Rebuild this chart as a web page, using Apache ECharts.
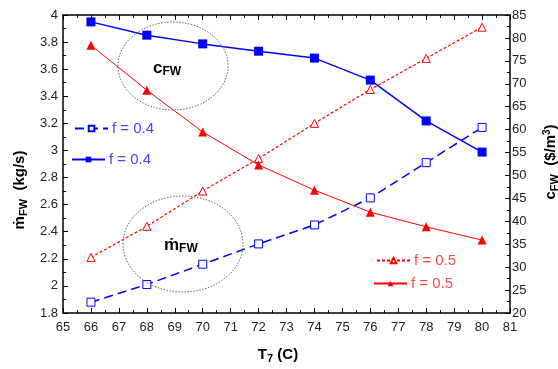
<!DOCTYPE html>
<html><head><meta charset="utf-8">
<script src="https://cdn.jsdelivr.net/npm/echarts@6/dist/echarts.min.js"></script>
<style>html,body{margin:0;padding:0;background:#fff}#c{width:558px;height:369px}</style>
</head><body><div id="c"></div>
<script>
const temps = [66, 68, 70, 72, 74, 76, 78, 80];
const mFW_f04 = [1.88, 2.01, 2.16, 2.31, 2.45, 2.65, 2.91, 3.17];
const mFW_f05 = [2.21, 2.44, 2.70, 2.94, 3.20, 3.45, 3.68, 3.91];
const cFW_f04 = [83.5, 80.6, 78.7, 77.1, 75.6, 70.8, 61.9, 55.1];
const cFW_f05 = [78.4, 68.6, 59.5, 52.3, 46.8, 42.0, 38.8, 35.9];
const legendLabels = {m04: 'f = 0.4', c04: 'f = 0.4', m05: 'f = 0.5', c05: 'f = 0.5'};

const pair = arr => temps.map((t, i) => [t, arr[i]]);
const FONT = 'Liberation Sans, Arial, sans-serif';
const chart = echarts.init(document.getElementById('c'));

const axisCommon = {
  axisLine: {show: true, onZero: false, lineStyle: {color: '#000', width: 1.5}},
  axisTick: {show: true, inside: true, length: 5, lineStyle: {color: '#000', width: 1}},
  minorTick: {show: true, splitNumber: 2, length: 3, lineStyle: {color: '#000', width: 1}},
  splitLine: {show: false},
  axisLabel: {color: '#222', fontSize: 13, fontFamily: FONT}
};

function leg(name, left, top, color) {
  return {
    data: [name], left: left, top: top, orient: 'horizontal',
    itemWidth: 33, itemHeight: 7, itemGap: 0, padding: 0,
    selectedMode: false,
    formatter: n => legendLabels[n],
    textStyle: {color: color, fontSize: 15, fontFamily: FONT, padding: [0, 0, 0, -1]}
  };
}

chart.setOption({
  animation: false,
  backgroundColor: '#fff',
  grid: {left: 63, right: 48, top: 15, bottom: 56},
  xAxis: [
    Object.assign({}, axisCommon, {type: 'value', min: 65, max: 81, interval: 1, position: 'bottom',
      axisLabel: Object.assign({}, axisCommon.axisLabel, {margin: 8})}),
    Object.assign({}, axisCommon, {type: 'value', min: 65, max: 81, interval: 1, position: 'top',
      axisLabel: {show: false}})
  ],
  yAxis: [
    Object.assign({}, axisCommon, {type: 'value', min: 1.8, max: 4, interval: 0.2, position: 'left',
      axisLabel: Object.assign({}, axisCommon.axisLabel, {margin: 5})}),
    Object.assign({}, axisCommon, {type: 'value', min: 20, max: 85, interval: 5, position: 'right',
      axisLabel: Object.assign({}, axisCommon.axisLabel, {margin: 2})})
  ],
  legend: [
    leg('m04', 74, 121, '#4646ff'),
    leg('c04', 71, 152, '#4646ff'),
    leg('m05', 376, 253, '#ff4a4a'),
    leg('c05', 373, 276, '#ff4a4a')
  ],
  series: [
    {name: 'm04', type: 'line', xAxisIndex: 0, yAxisIndex: 0, data: pair(mFW_f04),
      symbol: 'rect', symbolSize: 8, color: '#0000ff',
      lineStyle: {color: '#0000ff', width: 1.5, type: [9, 5]},
      itemStyle: {color: '#fff', borderColor: '#0000ff', borderWidth: 1}},
    {name: 'c04', type: 'line', xAxisIndex: 0, yAxisIndex: 1, data: pair(cFW_f04),
      symbol: 'rect', symbolSize: 9, color: '#0000ff',
      lineStyle: {color: '#0000ff', width: 1.5},
      itemStyle: {color: '#0000ff'}},
    {name: 'm05', type: 'line', xAxisIndex: 0, yAxisIndex: 0, data: pair(mFW_f05),
      symbol: 'triangle', symbolSize: 8, color: '#ff0000',
      lineStyle: {color: '#ff0000', width: 1.2, type: [3, 2]},
      itemStyle: {color: '#fff', borderColor: '#ff0000', borderWidth: 1}},
    {name: 'c05', type: 'line', xAxisIndex: 0, yAxisIndex: 1, data: pair(cFW_f05),
      symbol: 'triangle', symbolSize: 9, color: '#ff0000',
      lineStyle: {color: '#ff0000', width: 1},
      itemStyle: {color: '#ff0000'}}
  ],
  graphic: [
    {type: 'ellipse', shape: {cx: 173, cy: 66, rx: 55, ry: 44}, z: 10,
      style: {fill: 'none', stroke: '#666', lineWidth: 1, lineDash: [1.5, 1.5]}},
    {type: 'ellipse', shape: {cx: 183, cy: 244, rx: 60, ry: 48}, z: 10,
      style: {fill: 'none', stroke: '#666', lineWidth: 1, lineDash: [1.5, 1.5]}},
    {type: 'text', x: 153, y: 68, z: 11,
      style: {text: '{b|c}{s|FW}', fontFamily: FONT, verticalAlign: 'middle',
        rich: {b: {fontSize: 17, fontWeight: 'bold', fontFamily: FONT, fill: '#000'},
               s: {fontSize: 12, fontWeight: 'bold', fontFamily: FONT, fill: '#000', padding: [8, 0, 0, 0]}}}},
    {type: 'text', x: 164, y: 245, z: 11,
      style: {text: '{b|ṁ}{s|FW}', fontFamily: FONT, verticalAlign: 'middle',
        rich: {b: {fontSize: 17, fontWeight: 'bold', fontFamily: FONT, fill: '#000'},
               s: {fontSize: 12, fontWeight: 'bold', fontFamily: FONT, fill: '#000', padding: [8, 0, 0, 0]}}}},
    {type: 'text', x: 20, y: 190, rotation: Math.PI / 2, z: 11,
      style: {text: '{b|ṁ}{s|FW}{b|  (kg/s)}', align: 'center', verticalAlign: 'middle', fontFamily: FONT,
        rich: {b: {fontSize: 15, fontWeight: 'bold', fontFamily: FONT, fill: '#000'},
               s: {fontSize: 11, fontWeight: 'bold', fontFamily: FONT, fill: '#000', padding: [7, 0, 0, 0]}}}},
    {type: 'text', x: 551, y: 162, rotation: Math.PI / 2, z: 11,
      style: {text: '{b|c}{s|FW}{b|  ($/m}{p|3}{b|)}', align: 'center', verticalAlign: 'middle', fontFamily: FONT,
        rich: {b: {fontSize: 15, fontWeight: 'bold', fontFamily: FONT, fill: '#000'},
               s: {fontSize: 11, fontWeight: 'bold', fontFamily: FONT, fill: '#000', padding: [7, 0, 0, 0]},
               p: {fontSize: 10, fontWeight: 'bold', fontFamily: FONT, fill: '#000', padding: [0, 0, 8, 0]}}}},
    {type: 'text', x: 278, y: 355, z: 11,
      style: {text: '{b|T}{s|7}{b| (C)}', align: 'center', verticalAlign: 'middle', fontFamily: FONT,
        rich: {b: {fontSize: 15, fontWeight: 'bold', fontFamily: FONT, fill: '#000'},
               s: {fontSize: 11, fontWeight: 'bold', fontFamily: FONT, fill: '#000', padding: [7, 0, 0, 0]}}}}
  ]
});
</script></body></html>
